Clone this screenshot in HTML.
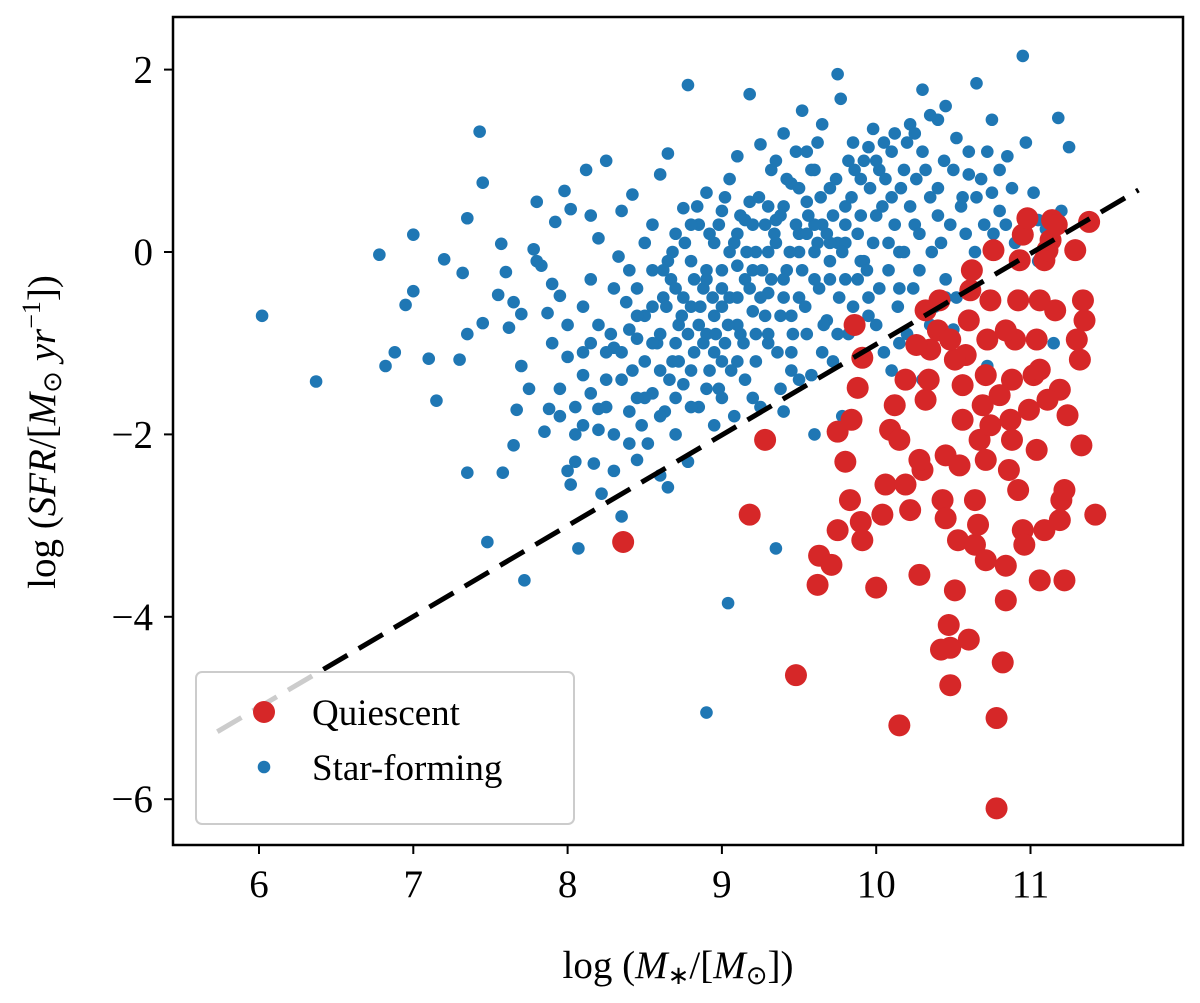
<!DOCTYPE html>
<html><head><meta charset="utf-8"><style>
body{margin:0;background:#fff}
svg text{font-family:"Liberation Serif","DejaVu Serif",serif;fill:#000}
</style></head><body>
<svg id="chart" width="1200" height="998" xmlns="http://www.w3.org/2000/svg">
<g id="marks"></g>
<g id="axes"></g>
</svg>
<script>
const xTicks=[6,7,8,9,10,11];
const yTicks=[2,0,-2,-4,-6];
const lineX=[5.73,11.70];
const lineY=[-5.26,0.68];
const quiescentX=[8.36,9.28,9.18,9.48,9.62,9.63,9.71,9.75,9.83,9.80,9.75,9.84,9.88,9.91,9.86,9.90,9.91,10.0,10.04,10.06,10.09,10.12,10.15,10.19,10.22,10.15,10.28,10.30,10.32,10.34,10.35,10.40,10.41,10.45,10.43,10.45,10.47,10.48,10.42,10.48,10.51,10.53,10.54,10.56,10.56,10.58,10.60,10.61,10.62,10.64,10.64,10.66,10.60,10.67,10.69,10.71,10.72,10.74,10.76,10.78,10.78,10.82,10.84,10.84,10.86,10.87,10.88,10.90,10.92,10.93,10.95,10.98,10.92,10.95,10.96,10.99,11.02,11.04,11.06,11.09,11.06,11.09,11.11,11.13,11.14,11.17,11.16,11.19,11.20,11.22,11.24,11.29,11.30,11.32,11.33,11.34,11.35,11.38,11.42,11.22,10.74,10.80,10.71,10.88,10.51,10.48,10.32,10.26,10.84,11.06,11.11,11.04,11.19,10.71,10.19,10.28];
const quiescentY=[-3.18,-2.06,-2.88,-4.64,-3.65,-3.33,-3.43,-3.05,-2.72,-2.30,-1.97,-1.84,-1.49,-1.16,-0.80,-2.96,-3.16,-3.68,-2.88,-2.55,-1.95,-1.68,-2.06,-2.55,-2.83,-5.19,-3.54,-2.39,-1.62,-1.40,-1.07,-0.86,-0.53,-2.23,-2.72,-2.92,-4.09,-4.34,-4.36,-4.75,-3.71,-3.16,-2.34,-1.84,-1.46,-1.13,-0.75,-0.42,-0.20,-2.72,-3.21,-2.99,-4.25,-2.06,-1.68,-1.35,-0.96,-0.53,0.02,-6.10,-5.11,-4.50,-3.82,-3.44,-2.39,-1.84,-1.40,-0.96,-0.53,-0.09,0.19,0.37,-2.61,-3.05,-3.21,-1.73,-1.35,-0.96,-0.53,-0.09,-3.60,-3.05,0.02,0.13,0.35,0.30,-0.64,-1.51,-2.72,-3.60,-1.79,0.02,-0.96,-1.18,-2.12,-0.53,-0.75,0.33,-2.88,-2.61,-1.90,-1.57,-2.28,-2.06,-1.18,-0.96,-0.64,-1.02,-0.86,-1.29,-1.62,-2.17,-2.94,-3.38,-1.40,-2.28];
const starX=[6.02,6.37,6.78,6.82,6.88,6.95,7.0,7.0,7.1,7.15,7.2,7.3,7.32,7.35,7.35,7.35,7.43,7.45,7.45,7.48,7.55,7.57,7.58,7.6,7.62,7.65,7.65,7.67,7.7,7.7,7.72,7.75,7.78,7.8,7.8,7.83,7.85,7.87,7.88,7.9,7.92,7.95,7.95,7.98,8.0,8.0,8.02,8.02,8.05,8.05,8.07,8.1,8.12,8.15,8.15,8.17,8.2,8.22,8.25,8.25,8.28,8.3,8.3,8.33,8.35,8.38,8.4,8.42,8.42,8.45,8.45,8.48,8.5,8.5,8.52,8.55,8.55,8.58,8.6,8.6,8.62,8.63,8.65,8.65,8.67,8.68,8.7,8.7,8.72,8.75,8.75,8.78,8.78,8.8,8.8,8.82,8.85,8.85,8.88,8.9,8.9,8.9,8.92,8.95,8.95,8.98,9.0,9.0,9.02,9.04,9.05,9.05,9.08,9.1,9.1,9.12,9.15,9.15,9.18,9.18,9.2,9.22,9.22,9.25,9.25,9.28,9.3,9.3,9.32,9.35,9.35,9.38,9.38,9.4,9.4,9.42,9.45,9.45,9.48,9.5,9.5,9.52,9.55,9.55,9.58,9.6,9.6,9.62,9.63,9.65,9.68,9.7,9.72,9.75,9.75,9.77,9.78,9.8,9.8,9.82,9.85,9.88,9.9,9.92,9.95,9.95,9.98,10.0,10.0,10.02,10.05,10.05,10.08,10.1,10.1,10.12,10.15,10.18,10.2,10.22,10.25,10.28,10.3,10.3,10.35,10.38,10.4,10.42,10.45,10.45,10.5,10.5,10.52,10.55,10.55,10.58,10.6,10.65,10.65,10.7,10.72,10.75,10.75,10.8,10.85,10.88,10.9,10.95,10.97,11.02,11.05,11.1,11.15,11.18,11.2,11.25,11.05,10.6,10.3,9.6,9.4,9.2,8.95,8.6,8.4,8.2,8.35,8.8,9.1,9.3,9.5,9.7,9.9,10.15,10.4,8.9,9.0,9.1,9.2,9.3,9.4,9.5,9.6,9.7,9.8,9.0,8.85,8.75,8.7,9.15,9.35,9.55,9.45,9.25,9.05,8.95,8.65,8.55,8.45,8.35,8.25,8.15,8.1,8.5,
8.6,8.62,8.64,8.66,8.68,8.7,8.72,8.74,8.76,8.78,8.8,8.82,8.84,8.86,8.88,8.9,8.92,8.94,8.96,8.98,9.0,9.02,9.04,9.06,9.08,9.1,9.12,9.14,9.16,9.18,9.2,9.22,9.24,9.26,9.28,9.3,9.32,9.34,9.36,9.38,9.4,9.42,9.44,9.46,9.48,9.5,9.52,9.54,9.56,9.58,9.6,9.62,9.64,9.66,9.68,9.7,9.72,9.74,9.76,9.78,9.8,9.82,9.84,9.86,9.88,9.9,9.92,9.94,9.96,9.98,10.0,10.02,10.04,10.06,10.08,10.1,10.12,10.14,10.16,10.18,10.2,10.22,10.24,10.26,10.28,10.32,10.36,10.4,10.44,10.48,10.52,10.56,10.6,10.64,10.68,10.72,10.76,10.8,10.84,8.3,8.35,8.4,8.45,8.5,8.55,8.2,8.1,8.25,8.45,8.55,8.6,8.7,8.8,8.9,9.0,9.1,8.4,8.3,8.2,8.05,7.95,8.1,8.0,7.9,8.15,9.35,9.55,9.65,9.85,10.25,10.35,9.45,9.65,9.75,9.95,10.15,10.35,10.45];
const starY=[-0.70,-1.42,-0.03,-1.25,-1.10,-0.58,0.19,-0.43,-1.17,-1.63,-0.08,-1.18,-0.23,0.37,-0.90,-2.42,1.32,0.76,-0.78,-3.18,-0.47,0.09,-2.42,-0.22,-0.83,-0.55,-2.12,-1.73,-0.68,-1.25,-3.6,-1.5,0.03,0.55,-0.1,-0.15,-1.97,-0.67,-1.72,-0.35,0.33,-1.5,-0.48,0.67,-1.15,-2.4,0.47,-2.55,-1.7,-2.3,-3.25,-1.35,0.9,-0.3,-1.0,-2.32,-1.72,-2.65,-1.4,1.0,-0.9,-1.05,-2.0,-0.05,-2.9,-0.55,-1.75,-1.3,0.63,-0.4,-2.28,-1.9,-0.7,-1.2,-2.1,-0.2,-1.55,-1.0,0.85,-2.45,-0.5,-1.75,1.08,-2.58,-0.3,-1.2,-2.0,0.2,-0.8,-1.45,0.48,1.83,-2.3,-0.1,-0.6,-1.1,0.3,-1.7,-0.4,-5.05,0.65,-0.9,-1.3,0.1,-0.7,-1.5,0.45,-0.2,-1.0,-3.85,0.8,-0.5,-1.8,1.05,0.2,-0.9,-0.3,-1.4,1.73,0.55,-0.65,0.0,-1.2,1.18,-1.7,0.3,-0.45,-1.0,0.9,-3.25,0.1,-0.7,-1.5,1.3,0.5,-0.2,-1.1,0.75,1.1,-0.5,0.2,1.55,-0.9,0.55,-1.35,0.0,0.9,1.2,-0.4,0.3,-0.75,0.7,-1.2,1.95,0.1,1.68,-1.8,-0.3,0.5,1.0,-0.6,0.2,0.8,-0.1,1.15,-0.5,1.35,0.4,-0.8,0.9,-1.1,1.2,0.1,-1.3,0.6,1.3,-0.4,0.9,-0.9,1.4,0.3,-0.2,1.1,1.78,0.6,-0.6,1.45,0.1,-0.3,1.6,0.9,-0.85,1.25,0.5,-1.15,0.2,0.85,1.85,0.6,0.3,-1.25,1.45,0.65,0.45,1.05,0.7,0.1,2.15,1.2,0.65,0.35,0.25,-1.0,1.47,0.45,1.15,-0.1,-0.7,-1.4,-2.0,-1.75,-1.6,-1.9,-1.3,-0.85,0.15,0.45,0.3,-0.15,-0.9,-1.4,-0.3,-0.1,0.0,0.4,-0.3,-0.6,-0.8,-0.2,0.0,-0.3,0.0,0.3,0.1,0.1,-1.2,-0.8,-0.5,-1.0,0.35,0.35,0.2,-0.7,-0.5,0.0,-1.1,-0.1,-0.6,-0.95,-1.4,-1.1,-1.55,-1.9,-1.6,
-0.9,-0.2,-0.6,-1.4,0.0,-0.4,-1.2,-0.7,0.1,-0.9,-1.3,-0.3,0.5,-0.6,-1.0,-0.2,0.2,-0.5,-0.9,0.3,-0.4,0.6,-0.8,-1.3,0.1,-0.5,0.4,-1.0,0.0,-0.4,0.3,-0.9,0.6,-0.2,-0.7,0.5,-0.3,0.2,-1.1,0.4,-0.5,0.8,0.0,-0.9,0.3,0.7,-0.2,-0.6,0.4,0.9,-0.3,0.1,0.6,-0.8,0.2,-0.1,0.4,0.8,-0.5,0.0,0.3,-0.9,0.6,0.9,-0.3,0.4,1.0,-0.2,0.7,0.1,1.0,-0.4,0.5,0.8,-0.2,1.1,0.3,-0.6,0.7,0.0,1.2,0.5,-0.4,0.8,0.2,0.9,0.0,0.7,1.0,0.3,-0.5,0.6,1.1,0.0,0.8,1.1,0.2,0.9,0.3,-0.4,-1.1,-0.2,-1.6,0.1,-1.0,-0.8,-1.1,-1.7,-0.7,0.3,-1.8,-1.6,-1.7,-1.5,-1.6,-1.2,-2.1,-2.4,-1.95,-2.0,-1.8,-0.6,-0.8,-1.0,0.4,1.0,1.1,1.4,1.2,1.3,1.5,-1.3,-1.1,-0.9,-0.7,-1.0,-0.8,-0.5];

const L=173,R=1183,T=17,B=845;
const sx=v=>259+(v-6)*154.3;
const sy=v=>252-v*91.2;
const NS="http://www.w3.org/2000/svg";
const mk=(t,a,p)=>{const e=document.createElementNS(NS,t);for(const k in a)e.setAttribute(k,a[k]);p.appendChild(e);return e;};
const marks=document.getElementById('marks');
const axes=document.getElementById('axes');

const gs=mk('g',{},marks);


starX.forEach((x,i)=>{const c=mk('circle',{cx:sx(x),cy:sy(starY[i]),r:6.3,fill:'#1f77b4'},gs);

});
const gq=mk('g',{},marks);


quiescentX.forEach((x,i)=>{const c=mk('circle',{cx:sx(x),cy:sy(quiescentY[i]),r:11,fill:'#d62728'},gq);

});
const ln=mk('line',{x1:sx(lineX[0]),y1:sy(lineY[0]),x2:sx(lineX[1]),y2:sy(lineY[1]),stroke:'#000','stroke-width':5,'stroke-dasharray':'28,13'},marks);



const lg=mk('g',{},axes);


mk('rect',{x:196,y:672,width:378,height:152,rx:6,fill:'rgba(255,255,255,0.8)',stroke:'#ccc','stroke-width':2},lg);
mk('circle',{cx:264,cy:712,r:11,fill:'#d62728'},lg);
const t1=mk('text',{x:312,y:725,'font-size':37},lg);t1.textContent='Quiescent';


mk('circle',{cx:264,cy:767,r:6.3,fill:'#1f77b4'},lg);
const t2=mk('text',{x:312,y:780,'font-size':37},lg);t2.textContent='Star-forming';



const fr=mk('rect',{x:L,y:T,width:R-L,height:B-T,fill:'none',stroke:'#000','stroke-width':2.5},axes);


xTicks.forEach(v=>{mk('line',{x1:sx(v),x2:sx(v),y1:B,y2:B+9,stroke:'#000','stroke-width':2},axes);
const t=mk('text',{x:sx(v),y:B+52,'font-size':39,'text-anchor':'middle'},axes);t.textContent=v;

});
yTicks.forEach(v=>{mk('line',{x1:L-9,x2:L,y1:sy(v),y2:sy(v),stroke:'#000','stroke-width':2},axes);
const t=mk('text',{x:L-20,y:sy(v)+13,'font-size':39,'text-anchor':'end'},axes);t.textContent=v<0?'\u2212'+(-v):v;

});
</script>
<svg style="position:absolute;left:0;top:0" width="1200" height="998" xmlns="http://www.w3.org/2000/svg">
<text x="678" y="978" font-size="39" text-anchor="middle" style="font-family:'Liberation Serif',serif">log (<tspan font-style="italic">M</tspan><tspan font-size="26" dy="6">∗</tspan><tspan dy="-6">/[</tspan><tspan font-style="italic">M</tspan><tspan font-size="26" dy="6">⊙</tspan><tspan dy="-6">])</tspan></text>
<text transform="translate(55,432) rotate(-90)" font-size="39" text-anchor="middle" style="font-family:'Liberation Serif',serif">log (<tspan font-style="italic">SFR</tspan>/[<tspan font-style="italic">M</tspan><tspan font-size="26" dy="6">⊙</tspan><tspan dy="-6" font-style="italic"> yr</tspan><tspan font-size="26" dy="-15">−1</tspan><tspan dy="15">])</tspan></text>
</svg>
</body></html>
